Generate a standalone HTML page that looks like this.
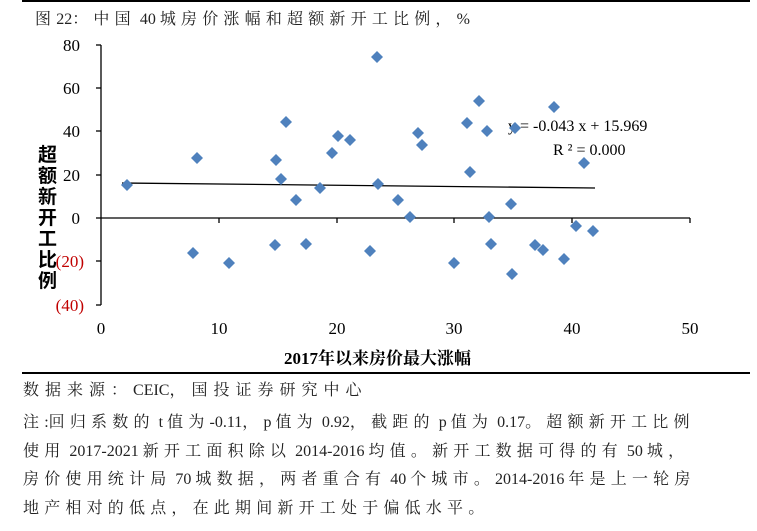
<!DOCTYPE html>
<html><head><meta charset="utf-8"><style>
body{margin:0;background:#fff;width:757px;height:531px;overflow:hidden;position:relative;font-family:"Liberation Serif","Noto Serif CJK SC",serif}
.t{position:absolute;white-space:nowrap;color:#222}
.c{letter-spacing:5.2px}
.s{letter-spacing:6px}
</style></head><body>
<div style="position:absolute;left:22px;top:0;width:728px;height:2px;background:#000"></div>
<div class="t" style="left:35px;top:6px;font-size:16px"><span class="c">图</span>22<span class="c">：中国</span> 40 <span class="c">城房价涨幅和超额新开工比例，</span>%</div>
<svg width="757" height="531" style="position:absolute;left:0;top:0" font-family="Liberation Serif, serif">
<g stroke="#000" stroke-width="1.3" fill="none">
<line x1="101" y1="45" x2="101" y2="305"/>
<line x1="101" y1="218" x2="690" y2="218"/>
<line x1="96" y1="45" x2="101" y2="45"/><line x1="96" y1="88" x2="101" y2="88"/><line x1="96" y1="131" x2="101" y2="131"/><line x1="96" y1="175" x2="101" y2="175"/><line x1="96" y1="218" x2="101" y2="218"/><line x1="96" y1="261" x2="101" y2="261"/><line x1="96" y1="305" x2="101" y2="305"/>
<line x1="219" y1="218" x2="219" y2="223"/><line x1="337" y1="218" x2="337" y2="223"/><line x1="454" y1="218" x2="454" y2="223"/><line x1="572" y1="218" x2="572" y2="223"/><line x1="690" y1="218" x2="690" y2="223"/>
<line x1="122" y1="183" x2="595" y2="188"/>
</g>
<g font-size="17" text-anchor="end">
<text x="80" y="51">80</text><text x="80" y="94">60</text><text x="80" y="137">40</text><text x="80" y="181">20</text><text x="80" y="224">0</text>
<text x="84" y="267" fill="#c00000">(20)</text><text x="84" y="311" fill="#c00000">(40)</text>
</g>
<g font-size="17" text-anchor="middle">
<text x="101" y="334">0</text><text x="219" y="334">10</text><text x="337" y="334">20</text><text x="454" y="334">30</text><text x="572" y="334">40</text><text x="690" y="334">50</text>
</g>
<text x="508" y="131" font-size="16">y = -0.043 x + 15.969</text>
<text x="553" y="155" font-size="16">R ² = 0.000</text>
</svg>
<div class="t" style="left:38px;top:143px;width:20px;font-size:19px;line-height:21px;font-weight:bold;white-space:normal;font-family:'Noto Sans CJK SC',sans-serif;color:#000">超额新开工比例</div>
<div class="t" style="left:284px;top:344px;font-size:17px;font-weight:bold;color:#000">2017年以来房价最大涨幅</div>
<div style="position:absolute;left:22px;top:372px;width:728px;height:2px;background:#000"></div>
<div class="t" style="left:23px;top:378px;font-size:16px;line-height:26px"><span class="s">数据来源：</span>CEIC<span class="s">，国投证券研究中心</span></div>
<div class="t" style="left:23px;top:409px;font-size:16px;line-height:28.5px"><span class="c">注</span>:<span class="c">回归系数的</span> t <span class="c">值为</span>-0.11<span class="c">，</span>p <span class="c">值为</span> 0.92<span class="c">，截距的</span> p <span class="c">值为</span> 0.17<span class="c">。超额新开工比例</span><br><span class="c">使用</span> 2017-2021 <span class="c">新开工面积除以</span> 2014-2016 <span class="c">均值。新开工数据可得的有</span> 50 <span class="c">城，</span><br><span class="c">房价使用统计局</span> 70 <span class="c">城数据，两者重合有</span> 40 <span class="c">个城市。</span>2014-2016 <span class="c">年是上一轮房</span><br><span class="c">地产相对的低点，在此期间新开工处于偏低水平。</span></div>
<svg width="757" height="531" style="position:absolute;left:0;top:0">
<g fill="#4f81bd">
<path d="M127 179l6 6-6 6-6-6z"/><path d="M193 247l6 6-6 6-6-6z"/><path d="M197 152l6 6-6 6-6-6z"/><path d="M229 257l6 6-6 6-6-6z"/>
<path d="M275 239l6 6-6 6-6-6z"/><path d="M276 154l6 6-6 6-6-6z"/><path d="M281 173l6 6-6 6-6-6z"/><path d="M286 116l6 6-6 6-6-6z"/>
<path d="M296 194l6 6-6 6-6-6z"/><path d="M306 238l6 6-6 6-6-6z"/><path d="M320 182l6 6-6 6-6-6z"/><path d="M332 147l6 6-6 6-6-6z"/>
<path d="M338 130l6 6-6 6-6-6z"/><path d="M350 134l6 6-6 6-6-6z"/><path d="M370 245l6 6-6 6-6-6z"/><path d="M377 51l6 6-6 6-6-6z"/>
<path d="M378 178l6 6-6 6-6-6z"/><path d="M398 194l6 6-6 6-6-6z"/><path d="M410 211l6 6-6 6-6-6z"/><path d="M418 127l6 6-6 6-6-6z"/>
<path d="M422 139l6 6-6 6-6-6z"/><path d="M454 257l6 6-6 6-6-6z"/><path d="M467 117l6 6-6 6-6-6z"/><path d="M470 166l6 6-6 6-6-6z"/>
<path d="M479 95l6 6-6 6-6-6z"/><path d="M487 125l6 6-6 6-6-6z"/><path d="M489 211l6 6-6 6-6-6z"/><path d="M491 238l6 6-6 6-6-6z"/>
<path d="M511 198l6 6-6 6-6-6z"/><path d="M512 268l6 6-6 6-6-6z"/><path d="M515 122l6 6-6 6-6-6z"/><path d="M535 239l6 6-6 6-6-6z"/>
<path d="M543 244l6 6-6 6-6-6z"/><path d="M554 101l6 6-6 6-6-6z"/><path d="M564 253l6 6-6 6-6-6z"/><path d="M576 220l6 6-6 6-6-6z"/>
<path d="M584 157l6 6-6 6-6-6z"/><path d="M593 225l6 6-6 6-6-6z"/>
</g></svg>
</body></html>
